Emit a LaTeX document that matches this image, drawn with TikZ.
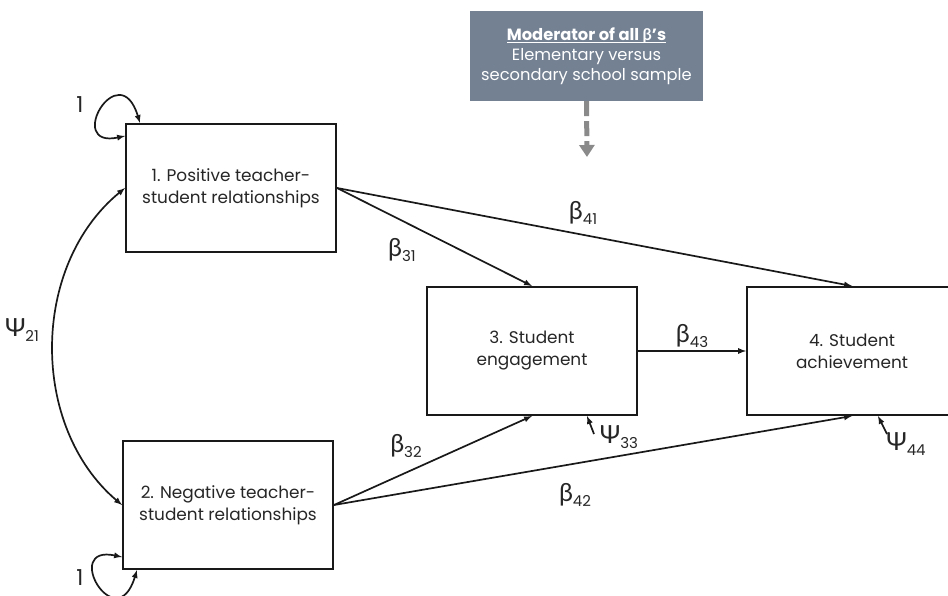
\documentclass[tikz,border=0pt]{standalone}
\usepackage{fontspec}
\setmainfont{Poppins}
\newfontfamily\grk{Lato}
\usetikzlibrary{arrows.meta}
\definecolor{slate}{RGB}{115,129,147}
\definecolor{dashgrey}{RGB}{138,138,138}
\newcommand{\coef}[2]{{\grk\fontsize{25}{25}\selectfont #1}\raisebox{-5pt}{\fontsize{15}{15}\selectfont #2}}

\begin{document}
\begin{tikzpicture}[x=1pt,y=1pt,
  box/.style={draw=black!90,line width=2pt,minimum width=210pt,minimum height=128pt,align=center,text=black!85,font=\fontsize{16.9}{22}\selectfont},
  path/.style={line width=1.7pt,->,>=latex,black!90},
  lbl/.style={text=black!85,inner sep=0pt}]
\useasboundingbox (0,0) rectangle (948,595);
\clip (0,0) rectangle (948,595);
\node[box] (box1) at (231,407) {1. Positive teacher-\\student relationships};
\node[box] (box2) at (228,90) {2. Negative teacher-\\student relationships};
\node[box] (box3) at (532,244) {3. Student\\engagement};
\node[box] (box4) at (852,244) {4. Student\\achievement};
\node[fill=slate,text=white,minimum width=233pt,minimum height=90pt,align=center,font=\fontsize{16.3}{20}\selectfont] (mod) at (586.5,539) {\underline{\textbf{Moderator of all \smash{\grk\bfseries β}’s}}\\Elementary versus\\secondary school sample};
\coordinate (modtip) at (587,438);
\draw [dashgrey,line width=5pt,dash pattern=on 15pt off 5pt,-{Triangle[length=12pt,width=15pt]}] (mod.south) -- (modtip);
\draw [path] (box1.east) -- (box3.north);
\draw [path] (box1.east) -- (box4.north);
\draw [path] (box3.east) -- (box4.west);
\draw [path] (box2.east) -- (box3.south);
\draw [path] (box2.east) -- (box4.south);
\draw [path,<->] (box1.west) .. controls +(-95,-78) and +(-92,78) .. (box2.west);
\draw [path,<->] ([yshift=-13pt]box1.north west) .. controls +(-61,-13) and +(-21,69) .. ([xshift=15pt]box1.north west);
\draw [path,<->] ([yshift=13pt]box2.south west) .. controls +(-61,13) and +(-21,-69) .. ([xshift=15pt]box2.south west);
\coordinate (t33) at (594,161);
\coordinate (t44) at (887,161);
\draw [path] (t33) -- ([xshift=55pt]box3.south);
\draw [path] (t44) -- ([xshift=26pt]box4.south);
\node[lbl] (b31) at (402,345) {\coef{β}{31}};
\node[lbl] (b41) at (583,382) {\coef{β}{41}};
\node[lbl] (b43) at (692,259) {\coef{β}{43}};
\node[lbl] (b32) at (406,149) {\coef{β}{32}};
\node[lbl] (b42) at (575,100) {\coef{β}{42}};
\node[lbl] (p33) at (619,158) {\coef{Ψ}{33}};
\node[lbl] (p44) at (906,151) {\coef{Ψ}{44}};
\node[lbl] (p21) at (22,265) {\coef{Ψ}{21}};
\node[lbl,font=\fontsize{22}{22}\selectfont] (one1) at (80,490) {1};
\node[lbl,font=\fontsize{22}{22}\selectfont] (one2) at (80,17) {1};
\end{tikzpicture}
\end{document}
